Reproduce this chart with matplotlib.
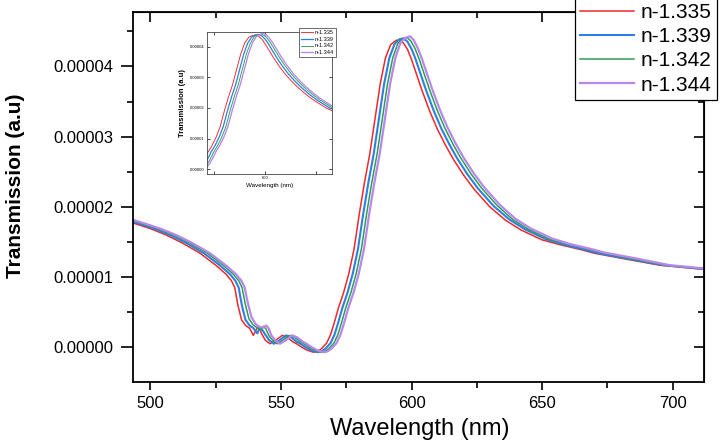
import matplotlib
matplotlib.use("Agg")
import matplotlib.pyplot as plt
from matplotlib.ticker import MultipleLocator, FormatStrFormatter
import numpy as np

plt.rcParams['font.family'] = ['Liberation Sans', 'DejaVu Sans']

# values, transmission in units of 1e-5 (a.u)
SCALE = 1e-5

labels = ['n-1.335', 'n-1.339', 'n-1.342', 'n-1.344']
colors = ['#f02828', '#2f7fe0', '#2e9e55', '#b987ec']
widths = [1.1, 1.5, 1.1, 1.6]

wl_1335 = [490, 493.4, 500, 506, 512, 519, 525, 529, 531, 532.3, 533.5, 534.9, 536.5, 538, 539.4,
           540.5, 541.5, 542.5, 544, 545.8, 548, 550.5, 552.5, 554.5, 556, 558, 560, 562.4, 564,
           565.5, 567.5, 569, 570.5, 572, 574, 576, 578, 580, 582, 584, 586, 588, 590, 592, 594,
           595.6, 597, 598.5, 600, 602, 604, 607, 610, 613, 616, 620, 624, 630, 636, 642, 650,
           657, 665, 670, 683, 695, 712]
tr_1335 = [1.81, 1.77, 1.69, 1.60, 1.49, 1.34, 1.17, 1.04, 0.95, 0.85, 0.60, 0.39, 0.31, 0.27, 0.17,
           0.25, 0.30, 0.20, 0.10, 0.05, 0.10, 0.17, 0.14, 0.08, 0.05, 0.00, -0.04, -0.07, -0.06,
           -0.02, 0.06, 0.18, 0.36, 0.56, 0.78, 1.05, 1.40, 1.90, 2.35, 2.75, 3.25, 3.75, 4.12, 4.31,
           4.37, 4.38, 4.33, 4.24, 4.10, 3.88, 3.66, 3.36, 3.10, 2.88, 2.68, 2.45, 2.25, 2.00, 1.81,
           1.67, 1.53, 1.46, 1.39, 1.34, 1.25, 1.17, 1.11]

wl_1339 = [491.5, 494.9, 501.5, 507.5, 513.5, 520.5, 526.5, 530.5, 532.5, 533.8, 535, 536.4, 538,
           539.5, 540.9, 542, 543, 544, 545.5, 547.3, 549.5, 552, 554, 556, 557.5, 559.5, 561.5,
           563.9, 565.5, 567, 569, 570.5, 572, 573.5, 575.5, 577.5, 579.5, 581.5, 583.5, 585.5,
           587.5, 589.5, 591.5, 593.5, 595.5, 597.1, 598.5, 600, 601.5, 603.5, 605.5, 608.5, 611.5,
           614.5, 617.5, 621.5, 625.5, 631.5, 637.5, 643.5, 651.5, 658.5, 666.5, 671.5, 684.5,
           696.5, 713.5]
tr_1339 = [1.81, 1.77, 1.69, 1.60, 1.49, 1.34, 1.17, 1.04, 0.95, 0.85, 0.60, 0.39, 0.31, 0.27, 0.20,
           0.28, 0.24, 0.18, 0.10, 0.05, 0.10, 0.17, 0.14, 0.08, 0.05, 0.00, -0.04, -0.07, -0.06,
           -0.02, 0.06, 0.18, 0.36, 0.56, 0.78, 1.05, 1.40, 1.90, 2.35, 2.75, 3.25, 3.75, 4.12, 4.32,
           4.39, 4.40, 4.35, 4.25, 4.11, 3.89, 3.67, 3.37, 3.11, 2.89, 2.69, 2.46, 2.26, 2.01, 1.82,
           1.68, 1.54, 1.46, 1.39, 1.34, 1.25, 1.17, 1.11]

wl_1342 = [492.8, 496.2, 502.8, 508.8, 514.8, 521.8, 527.8, 531.8, 533.8, 535.1, 536.3, 537.7,
           539.3, 540.8, 542.2, 543.3, 544.3, 545.3, 546.8, 548.6, 550.8, 553.3, 555.3, 557.3,
           558.8, 560.8, 562.8, 565.2, 566.8, 568.3, 570.3, 571.8, 573.3, 574.8, 576.8, 578.8,
           580.8, 582.8, 584.8, 586.8, 588.8, 590.8, 592.8, 594.8, 596.8, 598.4, 599.8, 601.3,
           602.8, 604.8, 606.8, 609.8, 612.8, 615.8, 618.8, 622.8, 626.8, 632.8, 638.8, 644.8,
           652.8, 659.8, 667.8, 672.8, 685.8, 697.8, 714.8]
tr_1342 = [1.81, 1.77, 1.69, 1.60, 1.49, 1.34, 1.17, 1.04, 0.95, 0.85, 0.62, 0.41, 0.32, 0.28, 0.24,
           0.30, 0.26, 0.17, 0.10, 0.05, 0.10, 0.17, 0.14, 0.08, 0.05, 0.00, -0.04, -0.07, -0.06,
           -0.02, 0.06, 0.18, 0.36, 0.56, 0.78, 1.05, 1.40, 1.90, 2.35, 2.75, 3.25, 3.75, 4.12, 4.33,
           4.40, 4.41, 4.36, 4.26, 4.12, 3.90, 3.68, 3.38, 3.12, 2.90, 2.70, 2.47, 2.27, 2.02, 1.82,
           1.68, 1.54, 1.47, 1.40, 1.35, 1.25, 1.17, 1.11]

wl_1344 = [490, 493.8, 497.2, 503.8, 509.8, 515.8, 522.8, 528.8, 532.8, 534.8, 536.1, 537.3, 538.7,
           540.3, 541.8, 543.2, 544.3, 545.3, 546.3, 547.8, 549.6, 551.8, 554.3, 556.3, 558.3,
           559.8, 561.8, 563.8, 566.2, 567.8, 569.3, 571.3, 572.8, 574.3, 575.8, 577.8, 579.8,
           581.8, 583.8, 585.8, 587.8, 589.8, 591.8, 593.8, 595.8, 597.8, 599.4, 600.8, 602.3,
           603.8, 605.8, 607.8, 610.8, 613.8, 616.8, 619.8, 623.8, 627.8, 633.8, 639.8, 645.8,
           653.8, 660.8, 668.8, 673.8, 686.8, 698.8, 715.8]
tr_1344 = [1.86, 1.81, 1.77, 1.69, 1.60, 1.49, 1.34, 1.17, 1.04, 0.95, 0.85, 0.63, 0.43, 0.33, 0.29,
           0.28, 0.31, 0.27, 0.17, 0.10, 0.05, 0.10, 0.17, 0.14, 0.08, 0.05, 0.00, -0.04, -0.07,
           -0.06, -0.02, 0.06, 0.18, 0.36, 0.56, 0.78, 1.05, 1.40, 1.90, 2.35, 2.75, 3.25, 3.75,
           4.12, 4.34, 4.41, 4.43, 4.38, 4.27, 4.13, 3.91, 3.69, 3.39, 3.13, 2.91, 2.71, 2.48, 2.28,
           2.03, 1.83, 1.69, 1.55, 1.47, 1.40, 1.35, 1.26, 1.17, 1.11]

series = [(wl_1335, tr_1335), (wl_1339, tr_1339), (wl_1342, tr_1342), (wl_1344, tr_1344)]

fig = plt.figure(figsize=(7.24, 4.43), dpi=100)
ax = fig.add_axes([0.184, 0.1384, 0.7886, 0.8352])

for (wl, tr), lab, c, lw in zip(series, labels, colors, widths):
    ax.plot(wl, np.array(tr) * SCALE, color=c, lw=lw, label=lab)

ax.set_xlim(493.4, 712.1)
ax.set_ylim(-4.9e-6, 4.78e-5)
ax.xaxis.set_major_locator(MultipleLocator(50))
ax.xaxis.set_minor_locator(MultipleLocator(25))
ax.yaxis.set_major_locator(MultipleLocator(1e-5))
ax.yaxis.set_minor_locator(MultipleLocator(5e-6))
ax.yaxis.set_major_formatter(FormatStrFormatter('%.5f'))
ax.tick_params(axis='both', which='major', direction='out', labelsize=12, width=1.2)
ax.tick_params(axis='x', which='major', length=6, pad=4)
ax.tick_params(axis='y', which='major', length=9, pad=5)
ax.tick_params(axis='both', which='minor', direction='out', length=4, width=1.2)
for s in ax.spines.values():
    s.set_linewidth(1.3)

# inward ticks on top and right
top = ax.secondary_xaxis('top')
top.xaxis.set_major_locator(MultipleLocator(50))
top.xaxis.set_minor_locator(MultipleLocator(25))
top.tick_params(which='major', direction='in', length=7, width=1.2, labeltop=False)
top.tick_params(which='minor', direction='in', length=4, width=1.2)
right = ax.secondary_yaxis('right')
right.yaxis.set_major_locator(MultipleLocator(1e-5))
right.yaxis.set_minor_locator(MultipleLocator(5e-6))
right.tick_params(which='major', direction='in', length=7, width=1.2, labelright=False)
right.tick_params(which='minor', direction='in', length=4, width=1.2)

ax.set_xlabel('Wavelength (nm)', fontsize=17)
ax.set_ylabel('Transmission (a.u)', fontsize=15, fontweight='bold')
ax.xaxis.set_label_coords(0.502, -0.098)
ax.yaxis.set_label_coords(-0.19, 0.53)

leg = ax.legend(loc='upper right', bbox_to_anchor=(0.990, 1.005), bbox_transform=fig.transFigure,
                fontsize=15, frameon=True, fancybox=False, edgecolor='black', framealpha=1,
                borderaxespad=0, handlelength=2.6, handletextpad=0.3, labelspacing=0.25,
                borderpad=0.25)
leg.get_frame().set_linewidth(0.9)

# inset
axins = fig.add_axes([0.286, 0.6072, 0.1727, 0.3212])
for (wl, tr), lab, c, lw in zip(series, labels, colors, widths):
    axins.plot(wl, np.array(tr) * SCALE, color=c, lw=lw * 0.6, label=lab)
axins.set_xlim(571.5, 633)
axins.set_ylim(-1.6e-6, 4.49e-5)
axins.xaxis.set_major_locator(MultipleLocator(50))
axins.xaxis.set_minor_locator(MultipleLocator(25))
axins.yaxis.set_major_locator(MultipleLocator(1e-5))
axins.yaxis.set_major_formatter(FormatStrFormatter('%.5f'))
axins.tick_params(which='both', direction='in', labelsize=3, length=2, width=0.5, pad=1.5,
                  top=True, right=True)
for s in axins.spines.values():
    s.set_linewidth(0.6)
    s.set_color('#444444')
axins.set_xlabel('Wavelength (nm)', fontsize=4.5, labelpad=2)
axins.set_ylabel('Transmission (a.u)', fontsize=5.5, fontweight='bold', labelpad=3)
ileg = axins.legend(loc='upper right', bbox_to_anchor=(0.464, 0.937), bbox_transform=fig.transFigure,
                    fontsize=4, frameon=True, fancybox=False, edgecolor='#333333', framealpha=1,
                    borderaxespad=0, handlelength=2.2, handletextpad=0.3, labelspacing=0.35,
                    borderpad=0.3)
ileg.get_frame().set_linewidth(0.5)

fig.savefig('out.png', dpi=100)
